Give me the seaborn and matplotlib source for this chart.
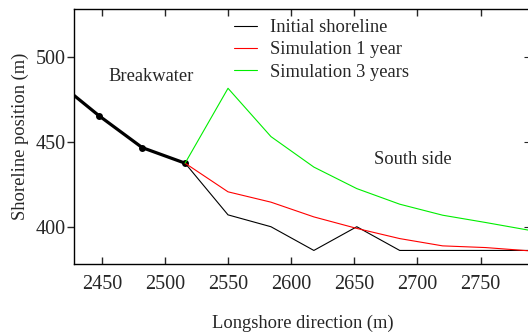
import matplotlib
matplotlib.use("Agg")
import matplotlib.pyplot as plt
import seaborn as sns
import pandas as pd

sns.set_style("ticks")
plt.rcParams['font.family'] = ['Liberation Serif', 'DejaVu Serif']
plt.rcParams['font.size'] = 13.3

# data
x_nodes = [2414, 2448, 2482, 2516, 2550, 2584, 2618, 2652, 2686, 2720, 2754, 2788]
initial_y = [486, 465.4, 446.7, 437.5, 407, 400, 386, 400, 386, 386, 386, 386]
sim1_y = [437.5, 420.6, 414.5, 405.8, 399, 393, 388.7, 387.7, 385.8]
sim3_y = [437.5, 481.7, 453.2, 435.2, 422.5, 413.3, 406.8, 402.5, 398]
breakwater_x = x_nodes[:4]
breakwater_y = initial_y[:4]
sim_x = x_nodes[3:]
labels = ["Initial shoreline", "Simulation 1 year", "Simulation 3 years"]
xticks = [2450, 2500, 2550, 2600, 2650, 2700, 2750]
yticks = [400, 450, 500]

fig = plt.figure(figsize=(5.28, 3.34), dpi=100)
ax = fig.add_axes([74/528, 1-264/334, (531-74)/528, (264-9)/334])

sns.lineplot(x=breakwater_x, y=breakwater_y, ax=ax, color="black", lw=2.3,
             marker="o", markersize=5, markeredgewidth=0, sort=False)
sns.lineplot(x=sim_x, y=initial_y[3:], ax=ax, color="black", lw=0.8,
             sort=False, label=labels[0])
sns.lineplot(x=sim_x, y=sim1_y, ax=ax, color="#ff0000", lw=0.8,
             sort=False, label=labels[1])
sns.lineplot(x=sim_x, y=sim3_y, ax=ax, color="#00ee00", lw=0.8,
             sort=False, label=labels[2])

ax.set_xlim(2428, 2790)
ax.set_ylim(378, 528.5)
ax.set_xticks(xticks)
ax.set_yticks(yticks)
ax.xaxis.set_ticks_position('both')
ax.tick_params(axis='x', which='both', direction='in', top=True, bottom=True,
               length=5, width=1, pad=8, labelsize=14.5)
ax.tick_params(axis='y', direction='out', length=5, width=1, pad=1, labelsize=14.5)
for s in ax.spines.values():
    s.set_linewidth(1.0)
    s.set_color("black")
# right inward ticks
ax2 = ax.secondary_yaxis('right')
ax2.set_yticks(yticks)
ax2.tick_params(direction='in', length=5, labelright=False)

ax.set_xlabel("Longshore direction (m)", fontsize=13.3, labelpad=15)
ax.set_ylabel("Shoreline position (m)", fontsize=13.3, labelpad=5)

ax.text(2489, 488.4, "Breakwater", ha="center", va="center", fontsize=13.3)
ax.text(2696, 439.4, "South side", ha="center", va="center", fontsize=13.3)

ax.legend(loc="upper left", bbox_to_anchor=(0.35, 0.96), frameon=False,
          borderpad=0, borderaxespad=0, handlelength=1.25, handletextpad=0.7,
          labelspacing=0.28, fontsize=13.3)

fig.savefig("out.png", dpi=100)
